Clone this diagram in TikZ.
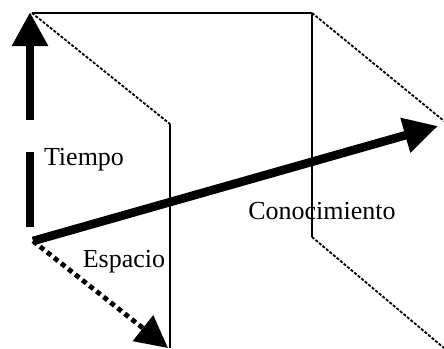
\documentclass[tikz,border=0pt]{standalone}
\usepackage{fontspec}
\setmainfont{Liberation Serif}
\usetikzlibrary{arrows.meta, positioning}
\begin{document}
\begin{tikzpicture}[x=0.5pt, y=-0.5pt]

\tikzset{plane/.style = {line width=0.9pt}}
\tikzset{hidden/.style = {line width=0.9pt, dash pattern=on 1.5pt off 0.8pt}}
\tikzset{axis/.style = {line width=4.3pt, -{Triangle[length=17pt, width=17pt]}}}
\tikzset{dotaxis/.style = {line width=2.4pt, dash pattern=on 2.5pt off 2pt, -{Triangle[length=16pt, width=16pt]}}}
\tikzset{label/.style = {font=\fontsize{13}{15}\selectfont, inner sep=0pt}}
\useasboundingbox (0,0) rectangle (444,348);
% corners
\coordinate (a) at (32,13);
\coordinate (b) at (170,124);
\coordinate (c) at (170,348);
\coordinate (d) at (312,13);
\coordinate (e) at (312,237);
\coordinate (f) at (444,348);
\coordinate (g) at (444,121);
% axis ends
\coordinate (o) at (33,241);
\coordinate (t0) at (30,227);
\coordinate (t1) at (30,152);
\coordinate (t2) at (30,120);
\coordinate (t3) at (30,12);
\coordinate (k) at (438,126);
\coordinate (s) at (168,348);
% labels
\node[label] (tiempo) at (84,160) {Tiempo};
\node[label] (espacio) at (124,262) {Espacio};
\node[label] (conocimiento) at (322,211) {Conocimiento};
% planes
\draw[plane] (a) -- (d);
\draw[hidden] (a) -- (b);
\draw[plane] (b) -- (c);
\draw[plane] (d) -- (e);
\draw[hidden] (e) -- (f);
\draw[hidden] (d) -- (g);
% axes
\draw[line width=4.3pt] (t0) -- (t1);
\draw[axis] (t2) -- (t3);
\draw[axis] (o) -- (k);
\draw[dotaxis] (o) -- (s);
\end{tikzpicture}
\end{document}
